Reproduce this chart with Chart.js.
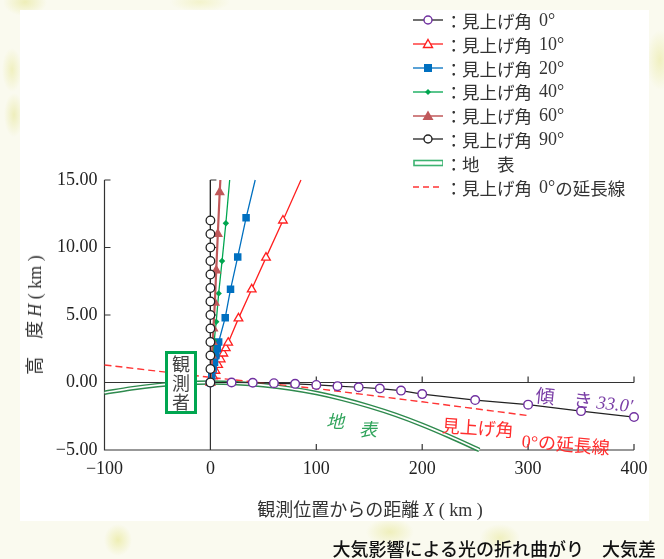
<!DOCTYPE html>
<html lang="ja">
<head>
<meta charset="utf-8">
<script src="https://cdn.jsdelivr.net/npm/chart.js@4.4.1/dist/chart.umd.min.js"></script>
<style>
  html, body { margin:0; padding:0; }
  body {
    width:664px; height:559px; overflow:hidden; position:relative;
    background-color:#fafaef;
    background-image:
      radial-gradient(ellipse 22px 14px at 25px 2px, #eeeeb8 0%, rgba(238,238,184,0) 100%),
      radial-gradient(ellipse 10px 22px at 12px 70px, #f0f0c0 0%, rgba(240,240,192,0) 100%),
      radial-gradient(ellipse 10px 22px at 14px 115px, #eeeebc 0%, rgba(238,238,188,0) 100%),
      radial-gradient(ellipse 14px 16px at 118px 540px, #eeeeb4 0%, rgba(238,238,180,0) 100%),
      radial-gradient(ellipse 24px 14px at 390px 532px, #efefbc 0%, rgba(239,239,188,0) 100%),
      radial-gradient(ellipse 20px 14px at 500px 538px, #f0f0c0 0%, rgba(240,240,192,0) 100%),
      radial-gradient(ellipse 14px 30px at 660px 60px, #f0f0c0 0%, rgba(240,240,192,0) 100%),
      radial-gradient(ellipse 30px 10px at 200px 2px, #f3f3cc 0%, rgba(243,243,204,0) 100%);
  }
  #panel { position:absolute; left:20px; top:10px; width:629px; height:511px; background:#fff; }
  #wrap { position:absolute; left:0; top:0; width:664px; height:559px; }
  .ov { position:absolute; white-space:nowrap; }
  .jp { font-family:"Noto Sans CJK JP", sans-serif; }
  .num { font-family:"Liberation Serif", "Noto Sans CJK JP", serif; }
  #legend { position:absolute; left:413px; top:8.6px; color:#333; font-size:17.5px; }
  #legend .row { height:23.8px; display:flex; align-items:center; }
  #legend svg { width:30px; height:14px; margin-right:2px; }
  #legend .colon { display:inline-block; width:17px; text-align:center; }
  #legend .deg { margin-left:7px; font-family:"Liberation Serif", serif; font-size:18px; }
</style>
</head>
<body>
<div id="panel"></div>
<div id="wrap"><canvas id="c"></canvas></div>

<div id="legend" class="jp"></div>

<div class="ov jp" style="left:33px; top:315px; transform:translate(-50%,-50%) rotate(-90deg); font-size:18px; color:#333;">高　度 <span class="num" style="font-style:italic">H</span><span class="num"> ( km )</span></div>
<div class="ov jp" style="left:370px; top:508px; transform:translate(-50%,-50%); font-size:18px; color:#333;">観測位置からの距離 <span class="num" style="font-style:italic">X</span><span class="num"> ( km )</span></div>

<div class="ov jp" style="left:165px; top:351px; width:26px; height:57px; border:3px solid #00a650; background:#fff; color:#444; font-size:18px; line-height:19px; text-align:center; white-space:normal;">観<br>測<br>者</div>

<div class="ov jp" style="left:326px; top:407px; font-size:18px; color:#2ea35a; font-style:italic;">地</div>
<div class="ov jp" style="left:359px; top:415px; font-size:18px; color:#2ea35a; font-style:italic;">表</div>

<div class="ov jp" style="left:536px; top:380px; font-size:19px; color:#7a3ea6; transform:rotate(6deg); transform-origin:left center;">傾　き <span class="num" style="font-style:italic; font-size:18.5px;">33.0′</span></div>

<div class="ov jp" style="left:442px; top:411px; font-size:18px; color:#ff2d2d; transform:rotate(4deg); transform-origin:left center;">見上げ角</div>
<div class="ov jp" style="left:522px; top:426px; font-size:18px; color:#ff2d2d; transform:rotate(5deg); transform-origin:left center;"><span class="num">0°</span>の延長線</div>

<div class="ov jp" style="right:8px; top:537px; font-size:18px; font-weight:500; color:#111; line-height:22px;">大気影響による光の折れ曲がり　大気差</div>

<script>
// ---------- data ----------
const xTickLabels = ['−100', '0', '100', '200', '300', '400'];
const yTickLabels = ['−5.00', '0.00', '5.00', '10.00', '15.00'];

// elevation 0°
const x0 = [0, 20, 40, 60, 80, 100, 120, 140, 160, 180, 200, 250, 300, 350, 400];
const y0 = [0, 0, -0.02, -0.05, -0.1, -0.18, -0.27, -0.35, -0.45, -0.6, -0.86, -1.3, -1.64, -2.12, -2.56];
// elevation 10° (last point = where the line leaves the top of the plot)
const x10 = [0, 2.5, 4.8, 7.3, 9.7, 12.2, 14.5, 16.8, 26.5, 39, 52.5, 68.5, 85.5];
const y10 = [0, 0.45, 0.87, 1.3, 1.72, 2.15, 2.55, 2.95, 4.75, 6.9, 9.25, 12.0, 15];
// elevation 20°
const x20 = [0, 1.3, 2.6, 3.9, 5.2, 6.5, 7.8, 14.0, 19.0, 25.8, 33.7, 42.3];
const y20 = [0, 0.5, 1.0, 1.5, 2.0, 2.5, 3.0, 4.8, 6.9, 9.3, 12.2, 15];
// elevation 40°
const x40 = [0, 1.2, 2.4, 3.6, 5.5, 7.8, 11.0, 14.6, 18.2];
const y40 = [0, 1.0, 2.0, 3.1, 4.5, 6.6, 9.0, 11.8, 15];
// elevation 60°
const x60 = [0, 0.7, 1.4, 2.1, 2.8, 4.2, 5.5, 7.0, 8.8, 9.4];
const y60 = [0, 1.0, 2.0, 3.0, 4.0, 5.9, 8.3, 11.0, 14.1, 15];
// elevation 90°
const x90 = [0, 0, 0, 0, 0, 0, 0, 0, 0, 0, 0, 0, 0, 0];
const y90 = [0, 1, 2, 3, 4, 5, 6, 7, 8, 9, 10, 11, 12, 15];
// earth surface
const xEarth = [-100, -75, -50, -25, 0, 25, 50, 75, 100, 125, 150, 175, 200, 225, 254];
const yEarth = [-0.76, -0.44, -0.2, -0.05, 0, -0.05, -0.2, -0.44, -0.78, -1.23, -1.77, -2.4, -3.14, -3.97, -5.0];
// extension of the 0° line
const xExt = [-100, 0, 100, 200, 300];
const yExt = [1.3, 0.38, -0.45, -1.43, -2.45];

const legendLabels = ['見上げ角', '見上げ角', '見上げ角', '見上げ角', '見上げ角', '見上げ角', '地　表', '見上げ角'];
const legendDegrees = ['0°', '10°', '20°', '40°', '60°', '90°', '', '0°の延長線'];

// ---------- helpers ----------
const pts = (xs, ys) => xs.map((v, i) => ({ x: v, y: ys[i] }));
const noLastMarker = (r) => (c) => (c.dataIndex === c.dataset.data.length - 1 ? 0 : r);

const C = {
  purple: '#7030a0', red: '#ff2020', blue: '#0070c0', green: '#00a650',
  brown: '#c0585a', black: '#222', earth: '#2f8a4e', ext: '#ff3535'
};

const axesPlugin = {
  id: 'innerAxes',
  beforeDatasetsDraw(chart) {
    const { ctx, scales: { x, y } } = chart;
    const px = v => x.getPixelForValue(v), py = v => y.getPixelForValue(v);
    const xMin = x.min, xMax = x.max, yMin = y.min, yMax = y.max;
    ctx.save();
    ctx.strokeStyle = '#333';
    ctx.lineWidth = 1.2;
    ctx.beginPath();
    ctx.moveTo(px(xMin), py(yMax)); ctx.lineTo(px(xMin), py(yMin)); ctx.lineTo(px(xMax), py(yMin));
    ctx.moveTo(px(xMin), py(0)); ctx.lineTo(px(xMax), py(0));
    ctx.moveTo(px(0), py(yMin)); ctx.lineTo(px(0), py(yMax));
    x.ticks.forEach(t => {
      if (t.value > xMin) {
        ctx.moveTo(px(t.value), py(yMin)); ctx.lineTo(px(t.value), py(yMin) - 6);
        if (t.value > 0) { ctx.moveTo(px(t.value), py(0)); ctx.lineTo(px(t.value), py(0) - 6); }
      }
    });
    y.ticks.forEach(t => {
      ctx.moveTo(px(xMin), py(t.value)); ctx.lineTo(px(xMin) + 6, py(t.value));
      if (t.value > 0) { ctx.moveTo(px(0), py(t.value)); ctx.lineTo(px(0) + 6, py(t.value)); }
    });
    ctx.stroke();
    ctx.restore();
  }
};

const ds = [
  { label: '地表', data: pts(xEarth, yEarth), borderColor: C.earth, borderWidth: 4.6, pointRadius: 0, cubicInterpolationMode: 'monotone', order: 10 },
  { label: '地表 inner', data: pts(xEarth, yEarth), borderColor: '#ffffff', borderWidth: 1.7, pointRadius: 0, cubicInterpolationMode: 'monotone', order: 9 },
  { label: '見上げ角 0°の延長線', data: pts(xExt, yExt), borderColor: C.ext, borderWidth: 1.4, borderDash: [7, 4], pointRadius: 0, order: 8 },
  { label: '見上げ角 0°', data: pts(x0, y0), borderColor: C.black, borderWidth: 1.2, pointStyle: 'circle', pointRadius: 4.3, pointBackgroundColor: '#fff', pointBorderColor: C.purple, pointBorderWidth: 1.4, order: 7 },
  { label: '見上げ角 10°', data: pts(x10, y10), borderColor: C.red, borderWidth: 1.3, pointStyle: 'triangle', pointRadius: noLastMarker(5), pointBackgroundColor: '#fff', pointBorderColor: C.red, pointBorderWidth: 1.3, order: 6 },
  { label: '見上げ角 20°', data: pts(x20, y20), borderColor: C.blue, borderWidth: 1.3, pointStyle: 'rect', pointRadius: noLastMarker(5.3), pointBackgroundColor: C.blue, pointBorderColor: C.blue, pointBorderWidth: 0, order: 5 },
  { label: '見上げ角 40°', data: pts(x40, y40), borderColor: C.green, borderWidth: 1.3, pointStyle: 'rectRot', pointRadius: noLastMarker(3.2), pointBackgroundColor: C.green, pointBorderColor: C.green, pointBorderWidth: 0, order: 4 },
  { label: '見上げ角 60°', data: pts(x60, y60), borderColor: C.brown, borderWidth: 2.2, pointStyle: 'triangle', pointRadius: noLastMarker(6), pointBackgroundColor: C.brown, pointBorderColor: C.brown, pointBorderWidth: 0, order: 3 },
  { label: '見上げ角 90°', data: pts(x90, y90), borderColor: C.black, borderWidth: 1.2, pointStyle: 'circle', pointRadius: noLastMarker(4.3), pointBackgroundColor: '#fff', pointBorderColor: C.black, pointBorderWidth: 1.3, order: 2 }
].map(d => Object.assign({ tension: 0, fill: false, clip: 10 }, d));

new Chart(document.getElementById('c'), {
  type: 'line',
  data: { datasets: ds },
  options: {
    responsive: true,
    maintainAspectRatio: false,
    animation: false,
    events: [],
    layout: { padding: { left: 44.5, right: 30, top: 180, bottom: 59 } },
    plugins: { legend: { display: false }, tooltip: { enabled: false } },
    scales: {
      x: {
        type: 'linear', min: -100, max: 400,
        afterFit: s => { s.height = 50; },
        grid: { display: false, drawTicks: false },
        border: { display: false },
        ticks: {
          stepSize: 100, padding: 8, color: '#222', maxRotation: 0,
          font: { family: 'Liberation Serif', size: 18 },
          callback: (v, i) => xTickLabels[i]
        }
      },
      y: {
        type: 'linear', min: -5, max: 15,
        afterFit: s => { s.width = 60; },
        grid: { display: false, drawTicks: false },
        border: { display: false },
        ticks: {
          stepSize: 5, padding: 7, color: '#222',
          font: { family: 'Liberation Serif', size: 18 },
          callback: (v, i) => yTickLabels[i]
        }
      }
    }
  },
  plugins: [axesPlugin]
});

// ---------- legend (HTML) ----------
const sym = [
  `<line x1="0" y1="7" x2="30" y2="7" stroke="${C.black}" stroke-width="1.3"/><circle cx="15" cy="7" r="4" fill="#fff" stroke="${C.purple}" stroke-width="1.4"/>`,
  `<line x1="0" y1="7" x2="30" y2="7" stroke="${C.red}" stroke-width="1.3"/><polygon points="15,2.5 19.5,10.5 10.5,10.5" fill="#fff" stroke="${C.red}" stroke-width="1.4"/>`,
  `<line x1="0" y1="7" x2="30" y2="7" stroke="${C.blue}" stroke-width="1.3"/><rect x="11" y="3" width="8" height="8" fill="${C.blue}"/>`,
  `<line x1="0" y1="7" x2="30" y2="7" stroke="${C.green}" stroke-width="1.3"/><polygon points="15,4 18,7 15,10 12,7" fill="${C.green}"/>`,
  `<line x1="0" y1="7" x2="30" y2="7" stroke="${C.brown}" stroke-width="1.5"/><polygon points="15,1.5 20.5,11 9.5,11" fill="${C.brown}"/>`,
  `<line x1="0" y1="7" x2="30" y2="7" stroke="${C.black}" stroke-width="1.3"/><circle cx="15" cy="7" r="4" fill="#fff" stroke="${C.black}" stroke-width="1.4"/>`,
  `<rect x="1" y="4.5" width="29" height="5" fill="#fff" stroke="#3cb371" stroke-width="1.6"/>`,
  `<line x1="0" y1="7" x2="30" y2="7" stroke="${C.ext}" stroke-width="1.4" stroke-dasharray="6,4"/>`
];
const lg = document.getElementById('legend');
lg.innerHTML = legendLabels.map((t, i) =>
  `<div class="row"><svg viewBox="0 0 30 14">${sym[i]}</svg><span class="colon">：</span><span>${t}</span>` +
  (legendDegrees[i] ? (i === 7
      ? `<span class="deg">0°</span><span>の延長線</span>`
      : `<span class="deg">${legendDegrees[i]}</span>`) : '') +
  `</div>`).join('');
</script>
</body>
</html>
